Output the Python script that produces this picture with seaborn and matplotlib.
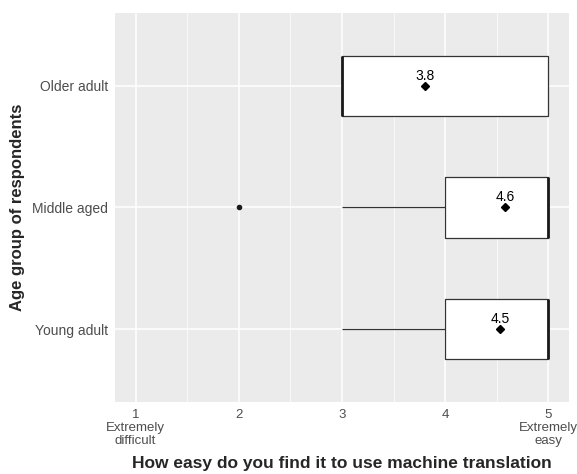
import pandas as pd
import seaborn as sns
import matplotlib.pyplot as plt

# Survey answers (1 = extremely difficult ... 5 = extremely easy)
older_adult = [3, 3, 3, 5, 5]
middle_aged = [2, 3, 4, 4, 4, 4, 4] + [5] * 17
young_adult = [3, 4, 4, 4, 4, 4] + [5] * 9

groups = ["Older adult", "Middle aged", "Young adult"]
tick_values = [1, 2, 3, 4, 5]
tick_labels = ["1\nExtremely\ndifficult", "2", "3", "4", "5\nExtremely\neasy"]

df = pd.DataFrame({
    "age": ["Older adult"] * len(older_adult) + ["Middle aged"] * len(middle_aged)
           + ["Young adult"] * len(young_adult),
    "ease": older_adult + middle_aged + young_adult,
})

sns.set_style("darkgrid", {"axes.facecolor": "#EBEBEB", "grid.color": "white"})
plt.rcParams["font.family"] = ["Liberation Sans", "DejaVu Sans"]

fig = plt.figure(figsize=(5.77, 4.74), dpi=100)
ax = fig.add_axes([0.1993, 0.1519, 0.787, 0.8207])

sns.boxplot(data=df, x="ease", y="age", order=groups, width=0.5,
            color="white", linecolor="#333333", linewidth=0.9,
            whis=1.5, showcaps=False, showmeans=True,
            meanprops=dict(marker="D", markerfacecolor="black",
                           markeredgecolor="black", markersize=4),
            medianprops=dict(color="#1a1a1a", linewidth=2),
            flierprops=dict(marker="o", markerfacecolor="#1a1a1a",
                            markeredgecolor="#1a1a1a", markersize=3),
            whiskerprops=dict(color="#333333", linewidth=0.9),
            ax=ax)

# Mean labels above the diamonds
means = df.groupby("age")["ease"].mean()
for i, g in enumerate(groups):
    ax.text(means[g], i - 0.085, f"{means[g]:.1f}", ha="center", va="center",
            fontsize=10, color="black")

ax.set_xlim(0.8, 5.2)
ax.set_ylim(2.6, -0.6)
ax.set_xticks(tick_values)
ax.set_xticklabels(tick_labels)
for t in ax.get_xticklabels():
    t.set_linespacing(1.1)
ax.set_xticks([1.5, 2.5, 3.5, 4.5], minor=True)
ax.grid(True, which="major", color="white", linewidth=1.1)
ax.grid(True, which="minor", axis="x", color="white", linewidth=0.5)
ax.tick_params(axis="both", which="major", length=3, color="#333333",
               labelcolor="#4d4d4d", labelsize=10, pad=2)
ax.tick_params(axis="x", labelsize=9.5)
ax.tick_params(axis="x", which="minor", length=0)
for s in ax.spines.values():
    s.set_visible(False)
ax.set_axisbelow(True)

ax.set_xlabel("How easy do you find it to use machine translation",
              fontsize=12.5, fontweight="bold", labelpad=6.5)
ax.set_ylabel("Age group of respondents", fontsize=12, fontweight="bold",
              labelpad=5)

fig.savefig("out.png", dpi=100)
